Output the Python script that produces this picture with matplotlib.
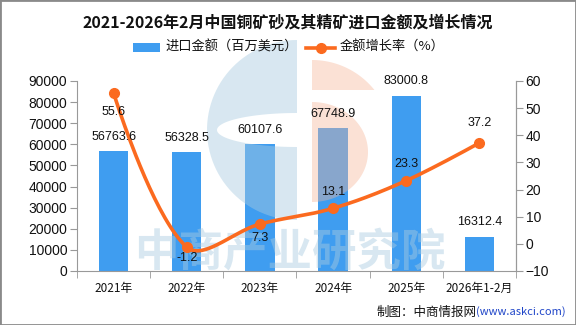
import matplotlib.pyplot as plt
import numpy as np
from matplotlib.patches import Rectangle, Polygon
from matplotlib.lines import Line2D

plt.rcParams['font.family'] = ['Noto Sans CJK SC', 'DejaVu Sans']

# data
categories = ['2021年', '2022年', '2023年', '2024年', '2025年', '2026年1-2月']
import_value = [56763.6, 56328.5, 60107.6, 67748.9, 83000.8, 16312.4]
growth_rate = [55.6, -1.2, 7.3, 13.1, 23.3, 37.2]

bar_color = '#3f9df0'
line_color = '#fb6a1f'
axis_color = '#999999'
num_font = ['Liberation Sans', 'DejaVu Sans']

W, H = 576, 325
fig = plt.figure(figsize=(W / 100, H / 100), dpi=100)

# main axes: left = amount, right = growth rate
ax = fig.add_axes([77 / W, 1 - 271 / H, (516 - 77) / W, 190 / H])
ax2 = ax.twinx()
ax.set_zorder(1)
ax2.set_zorder(3)
ax2.patch.set_visible(False)

x = np.arange(len(categories))
ax.bar(x, import_value, width=0.4, color=bar_color, zorder=2)
ax.set_xlim(-0.5, len(categories) - 0.5)
ax.set_ylim(0, 90000)
ax.set_yticks(np.arange(0, 90001, 10000))
ax2.set_ylim(-10, 60)
ax2.set_yticks(np.arange(-10, 61, 10))

ax.set_xticks(x)
ax.set_xticklabels(categories, fontsize=8.5, color='#111111')
ax.set_xticks(np.arange(-0.5, len(categories), 1), minor=True)
ax.tick_params(axis='x', which='major', length=0, pad=8)
ax.tick_params(axis='x', which='minor', length=5, color=axis_color)
ax.tick_params(axis='y', length=5, color=axis_color, labelsize=10, pad=2)
ax2.tick_params(axis='y', length=5, color=axis_color, labelsize=10, pad=2)
for lab in ax.get_yticklabels() + ax2.get_yticklabels():
    lab.set_family(num_font)
    lab.set_color('#111111')

for a in (ax, ax2):
    a.spines['top'].set_visible(False)
    for s in ('left', 'right', 'bottom'):
        a.spines[s].set_color(axis_color)
ax2.spines['left'].set_visible(False)
ax2.spines['bottom'].set_visible(False)


# echarts-like smooth curve (bezier through each point)
def smooth_curve(xs, ys, sx, sy, k=0.5, n=40):
    p = np.column_stack([np.asarray(xs) * sx, np.asarray(ys) * sy])
    m = len(p)
    cp_prev = p.copy()
    cp_next = p.copy()
    for i in range(1, m - 1):
        v = p[i + 1] - p[i - 1]
        d0 = np.hypot(*(p[i] - p[i - 1]))
        d1 = np.hypot(*(p[i + 1] - p[i]))
        cp_prev[i] = p[i] - v * k * d0 / (d0 + d1)
        cp_next[i] = p[i] + v * k * d1 / (d0 + d1)
    t = np.linspace(0, 1, n)[:, None]
    segs = []
    for i in range(m - 1):
        a, b, c, d = p[i], cp_next[i], cp_prev[i + 1], p[i + 1]
        segs.append((1 - t) ** 3 * a + 3 * (1 - t) ** 2 * t * b
                    + 3 * (1 - t) * t ** 2 * c + t ** 3 * d)
    pts = np.vstack(segs)
    return pts[:, 0] / sx, pts[:, 1] / sy


sx = 439 / len(categories)
sy = 190 / 70
cx, cy = smooth_curve(x, growth_rate, sx, sy, k=0.35)
ax2.plot(cx, cy, color=line_color, lw=2.6, solid_capstyle='round', zorder=3)
ax2.plot(x, growth_rate, 'o', color=line_color, ms=7, zorder=4)

# labels
for i, v in enumerate(import_value):
    ax2.annotate(f'{v:.1f}', (i, v), xycoords=ax.transData, xytext=(0, 6),
                 textcoords='offset points', ha='center', va='bottom',
                 fontsize=9, family=num_font, color='#111111')
rate_offsets = [-14, -8, -10, 12, 12, 14]
for i, v in enumerate(growth_rate):
    ax2.annotate(f'{v:.1f}', (i, v), xytext=(0, rate_offsets[i]),
                 textcoords='offset points', ha='center', va='center',
                 fontsize=9, family=num_font, color='#111111')

# overlay in pixel coords: watermark, legend, title, footer
ov = fig.add_axes([0, 0, 1, 1])
ov.set_xlim(0, W)
ov.set_ylim(H, 0)
ov.axis('off')
ov.set_zorder(2)
ov.patch.set_visible(False)

# watermark logo
th = np.linspace(np.pi / 2, 3 * np.pi / 2, 60)
outer = np.column_stack([297 + 90 * np.cos(th), 130 - 90 * np.sin(th)])
th2 = np.linspace(3 * np.pi / 2, np.pi / 2, 60)
inner = np.column_stack([297 + 80 * np.cos(th2), 130 - 17 * np.sin(th2)])
blue_shape = np.vstack([outer, [[297, 220], [297, 147]], inner, [[297, 113], [297, 40]]])
ov.add_patch(Polygon(blue_shape, closed=True, color='#a9cbe0', alpha=0.45, lw=0))
th3 = np.linspace(-np.pi / 2, np.pi / 2, 60)
orange_low = np.column_stack([312 + 56 * np.cos(th3), 152 - 50 * np.sin(th3)])
ov.add_patch(Polygon(orange_low, closed=True, color='#f6b496', alpha=0.4, lw=0))
th4 = np.linspace(np.arcsin(50 / 80), np.pi / 2, 30)
orange_top = np.column_stack([312 + 80 * np.cos(th4), 140 - 80 * np.sin(th4)])
orange_top = np.vstack([[[312, 90]], orange_top])
ov.add_patch(Polygon(orange_top, closed=True, color='#f6b496', alpha=0.4, lw=0))
ov.text(290, 252, '中商产业研究院', fontsize=32, fontweight='bold', color='#a9cbe0',
        alpha=0.45, ha='center', va='center')

# title
ov.text(288, 23, '2021-2026年2月中国铜矿砂及其精矿进口金额及增长情况',
        fontsize=11.5, fontweight='bold', ha='center', va='center', color='#111111')

# legend
ov.add_patch(Rectangle((133, 43), 27, 9, color=bar_color, lw=0))
ov.text(165, 47.5, '进口金额（百万美元）', fontsize=9.5, va='center', color='#111111')
ov.add_line(Line2D([306, 335], [47.5, 47.5], color=line_color, lw=2.6))
ov.add_line(Line2D([320.5], [47.5], marker='o', ms=7, color=line_color))
ov.text(340, 47.5, '金额增长率（%）', fontsize=9.5, va='center', color='#111111')

# footer
url = ov.text(566, 312, '(www.askci.com)', fontsize=8, color='#1f45c8',
              ha='right', va='center')
fig.canvas.draw()
bb = url.get_window_extent()
ov.text(bb.x0, 312, '制图：中商情报网', fontsize=9, color='#111111',
        ha='right', va='center')

# frame
fig.add_artist(Rectangle((0, 0), 1, 1, transform=fig.transFigure, fill=False,
                         edgecolor='#8a8a8a', lw=2))

fig.savefig('out.png', dpi=100)
